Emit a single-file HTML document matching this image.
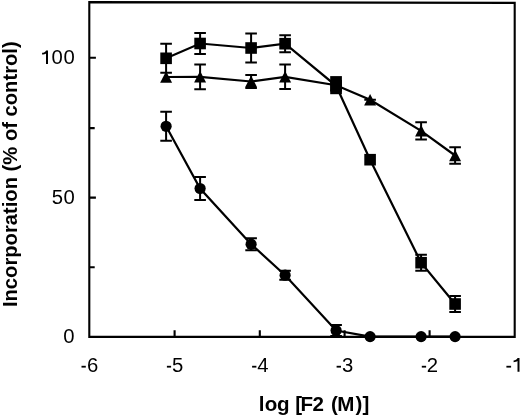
<!DOCTYPE html>
<html><head><meta charset="utf-8"><style>
html,body{margin:0;padding:0;background:#fff;}
svg{display:block;filter:grayscale(1);}
text{font-family:"Liberation Sans",sans-serif;fill:#000;}
</style></head><body>
<svg width="520" height="416" viewBox="0 0 520 416">
<rect width="520" height="416" fill="#fff"/>
<g stroke="#000" stroke-width="2.0" fill="none" stroke-linecap="butt">
<path stroke-width="2.1" stroke-linejoin="miter" d="M89.3 336.9V2.1L514.7 2.85V336.9Z M174.6 336.9V330.3 M259.8 336.9V330.3 M344.6 336.9V330.3 M429.6 336.9V330.3 M89.3 57.8H95.9 M89.3 197.65H95.9 M89.3 128.1H94.7 M89.3 267.3H94.7"/>
<g stroke-width="2.2"><polyline points="166.10,58.30 200.10,43.50 251.10,48.00 285.10,43.70 336.10,85.80 370.10,159.70 421.10,262.70 455.10,304.00"/><polyline points="166.10,77.00 200.10,76.80 251.10,81.50 285.10,76.80 336.10,85.20 370.10,99.80 421.10,130.80 455.10,155.50"/><polyline points="166.10,126.30 200.10,188.50 251.10,244.20 285.10,275.20 336.10,330.50 370.10,336.60 421.10,336.60 455.10,336.60"/></g>
<path d="M166.10 43.80V72.80M160.30 43.80H171.90M160.30 72.80H171.90"/><path d="M200.10 33.00V54.00M194.30 33.00H205.90M194.30 54.00H205.90"/><path d="M251.10 33.50V62.50M245.30 33.50H256.90M245.30 62.50H256.90"/><path d="M285.10 35.20V52.20M279.30 35.20H290.90M279.30 52.20H290.90"/><path d="M421.10 254.70V270.70M415.30 254.70H426.90M415.30 270.70H426.90"/><path d="M455.10 296.00V312.00M449.30 296.00H460.90M449.30 312.00H460.90"/><path d="M200.10 64.40V89.20M194.30 64.40H205.90M194.30 89.20H205.90"/><path d="M251.10 75.00V88.00M245.30 75.00H256.90M245.30 88.00H256.90"/><path d="M285.10 64.60V89.00M279.30 64.60H290.90M279.30 89.00H290.90"/><path d="M370.10 99.79V99.81M364.30 99.79H375.90M364.30 99.81H375.90"/><path d="M421.10 122.20V139.40M415.30 122.20H426.90M415.30 139.40H426.90"/><path d="M455.10 147.20V163.80M449.30 147.20H460.90M449.30 163.80H460.90"/><path d="M166.10 111.80V140.80M160.30 111.80H171.90M160.30 140.80H171.90"/><path d="M200.10 177.00V200.00M194.30 177.00H205.90M194.30 200.00H205.90"/><path d="M251.10 238.20V250.20M245.30 238.20H256.90M245.30 250.20H256.90"/><path d="M285.10 270.70V279.70M279.30 270.70H290.90M279.30 279.70H290.90"/><path d="M336.10 325.00V336.00M330.30 325.00H341.90M330.30 336.00H341.90"/>
</g>
<g fill="#000" stroke="none">
<rect x="330.2" y="76.1" width="11.7" height="18.1"/><rect x="160.30" y="52.50" width="11.60" height="11.60"/><rect x="194.30" y="37.70" width="11.60" height="11.60"/><rect x="245.30" y="42.20" width="11.60" height="11.60"/><rect x="279.30" y="37.90" width="11.60" height="11.60"/><rect x="330.30" y="80.00" width="11.60" height="11.60"/><rect x="364.30" y="153.90" width="11.60" height="11.60"/><rect x="415.30" y="256.90" width="11.60" height="11.60"/><rect x="449.30" y="298.20" width="11.60" height="11.60"/><path d="M166.10 71.30L172.10 82.70H160.10Z"/><path d="M200.10 71.10L206.10 82.50H194.10Z"/><path d="M251.10 75.80L257.10 87.20H245.10Z"/><path d="M285.10 71.10L291.10 82.50H279.10Z"/><path d="M336.10 79.50L342.10 90.90H330.10Z"/><path d="M370.10 94.10L376.10 105.50H364.10Z"/><path d="M421.10 125.10L427.10 136.50H415.10Z"/><path d="M455.10 149.80L461.10 161.20H449.10Z"/><circle cx="166.10" cy="126.30" r="5.6"/><circle cx="200.10" cy="188.50" r="5.6"/><circle cx="251.10" cy="244.20" r="5.6"/><circle cx="285.10" cy="275.20" r="5.6"/><circle cx="336.10" cy="330.50" r="5.6"/><circle cx="370.10" cy="336.60" r="5.6"/><circle cx="421.10" cy="336.60" r="5.6"/><circle cx="455.10" cy="336.60" r="5.6"/>
</g>
<g font-size="19.5" fill="#000">
<path d="M46.00 63.90V53.40C45.20 54.20 43.40 54.40 42.10 54.50V52.80C43.80 52.70 45.40 51.80 46.10 50.40H48.00V63.90Z"/><text transform="translate(51.41 63.90) scale(1.04 1)">0</text><text transform="translate(63.41 63.90) scale(1.04 1)">0</text><text transform="translate(51.79 203.90) scale(1.04 1)">5</text><text transform="translate(63.41 203.90) scale(1.04 1)">0</text><text transform="translate(63.31 342.50) scale(1.04 1)">0</text><rect x="81.50" y="365.80" width="4.30" height="1.80"/><text transform="translate(87.07 371.50) scale(1.04 1)">6</text><rect x="166.90" y="365.80" width="4.20" height="1.80"/><text transform="translate(172.09 371.50) scale(1.04 1)">5</text><rect x="252.10" y="365.80" width="4.30" height="1.80"/><text transform="translate(257.33 371.50) scale(1.04 1)">4</text><rect x="336.60" y="365.80" width="4.40" height="1.80"/><text transform="translate(342.03 371.50) scale(1.04 1)">3</text><rect x="421.80" y="365.80" width="4.30" height="1.80"/><text transform="translate(426.78 371.50) scale(1.04 1)">2</text><rect x="506.40" y="365.80" width="4.70" height="1.80"/><path d="M517.50 371.70V361.10C516.70 361.90 514.90 362.10 513.60 362.20V360.50C515.30 360.40 516.90 359.50 517.60 358.10H519.50V371.70Z"/>
</g>
<text font-weight="bold" font-size="19.5" transform="scale(1.054 1)" x="245.51 251.23 262.77 267.77 280.12 285.03 296.48 301.48 314.02 320.09 337.36 343.97" y="410.8">log [F2 (M)]</text>
<text font-weight="bold" font-size="20.2" transform="translate(17 307.1) rotate(-90)">Incorporation (% of control)</text>
</svg>
</body></html>
